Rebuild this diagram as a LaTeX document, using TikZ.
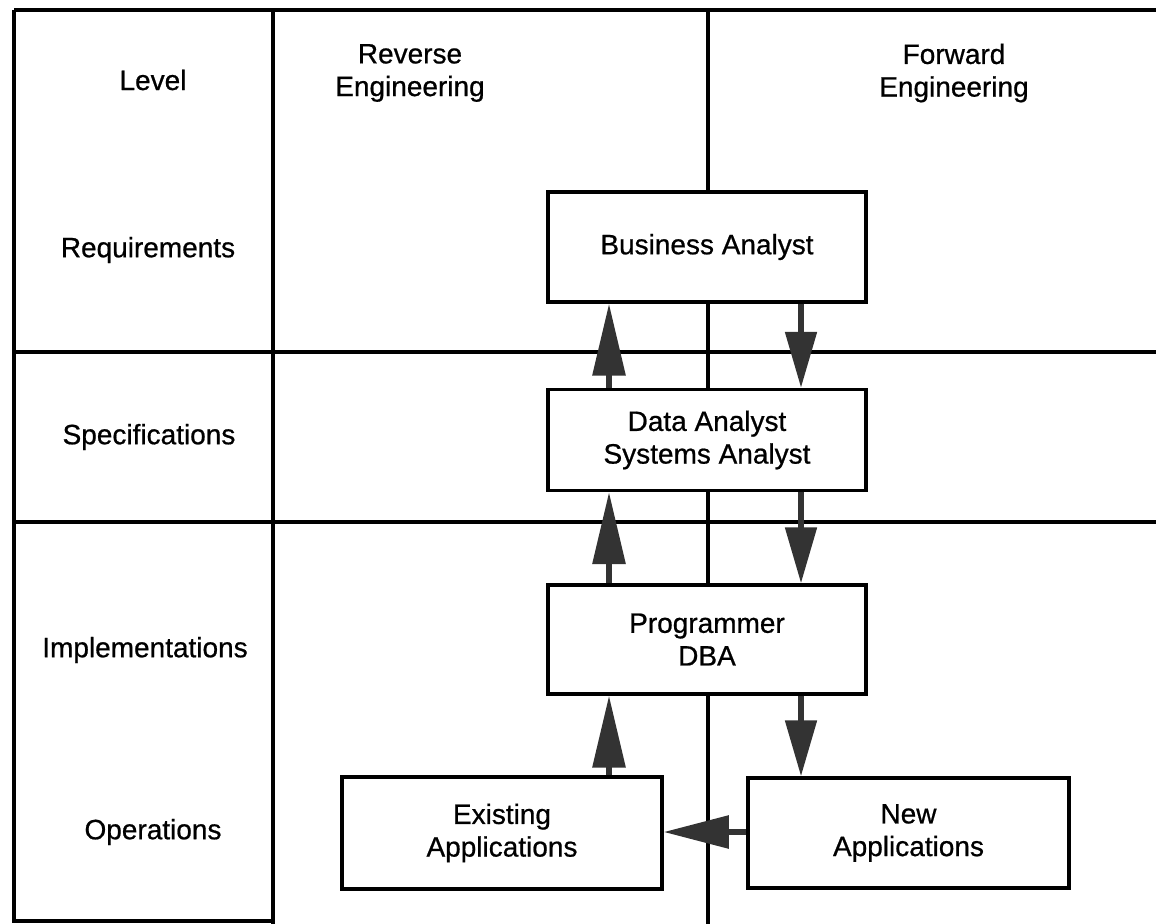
\documentclass[tikz,border=0pt]{standalone}
\usepackage{fontspec}
\setmainfont{Liberation Sans}
\newfontfamily\heavyfont[FakeBold=0.7]{Liberation Sans}
\usetikzlibrary{arrows.meta}
\definecolor{arrowgray}{gray}{0.2}
\begin{document}
\begin{tikzpicture}[x=0.75pt,y=-0.75pt,
  grid/.style={line width=2.4pt, line cap=square},
  lbl/.style={font=\heavyfont\fontsize{21pt}{24.5pt}\selectfont, align=center, inner sep=0pt},
  role/.style={draw, line width=2.4pt, fill=white, font=\heavyfont\fontsize{21pt}{24.5pt}\selectfont, align=center, inner sep=0pt},
  uparr/.style={draw=arrowgray, line width=4.5pt, -{Triangle[length=54pt,width=24pt,fill=arrowgray]}},
  downarr/.style={draw=arrowgray, line width=4.5pt, -{Triangle[length=42pt,width=23pt,fill=arrowgray]}},
  leftarr/.style={draw=arrowgray, line width=4.5pt, -{Triangle[length=49pt,width=24pt,fill=arrowgray]}}
]
\fill[white] (0,0) rectangle (1156,924);
\useasboundingbox (0,0) rectangle (1156,924);

% grid
\draw[grid] (14,10) -- (1156,10);
\draw[grid] (14,10) -- (14,921) -- (273,921);
\draw[grid] (273,10) -- (273,924);
\draw[grid] (708,10) -- (708,924);
\draw[grid] (14,352) -- (1156,352);
\draw[grid] (14,522) -- (1156,522);

% header and level labels
\node[lbl] (level) at (153,80) {Level};
\node[lbl] (rev) at (410,73) {Reverse\\Engineering};
\node[lbl] (fwd) at (954,73) {Forward\\Engineering};
\node[lbl] (req) at (148,250) {Requirements};
\node[lbl] (spec) at (149,437) {Specifications};
\node[lbl] (impl) at (145,650) {Implementations};
\node[lbl] (ops) at (153,832) {Operations};

% role boxes
\node[role, minimum width=238.5pt, minimum height=82.5pt] (ba) at (707,247) {Business Analyst};
\node[role, minimum width=238.5pt, minimum height=75.75pt] (da) at (707,440) {Data Analyst\\Systems Analyst};
\node[role, minimum width=238.5pt, minimum height=81.75pt] (pd) at (707,639.5) {Programmer\\DBA};
\node[role, minimum width=240pt, minimum height=84pt] (ea) at (502,833) {Existing\\Applications};
\node[role, minimum width=240.75pt, minimum height=82.5pt] (na) at (908.5,833) {New\\Applications};

% arrow columns
\coordinate (xu) at (609,0);
\coordinate (xd) at (801,0);
\coordinate (yh) at (0,832);

% arrows
\draw[uparr] (da.north -| xu) -- (ba.south -| xu);
\draw[downarr] (ba.south -| xd) -- (da.north -| xd);
\draw[uparr] (pd.north -| xu) -- (da.south -| xu);
\draw[downarr] (da.south -| xd) -- (pd.north -| xd);
\draw[uparr] (ea.north -| xu) -- (pd.south -| xu);
\draw[downarr] (pd.south -| xd) -- (na.north -| xd);
\draw[leftarr] (na.west |- yh) -- (ea.east |- yh);
\end{tikzpicture}
\end{document}
